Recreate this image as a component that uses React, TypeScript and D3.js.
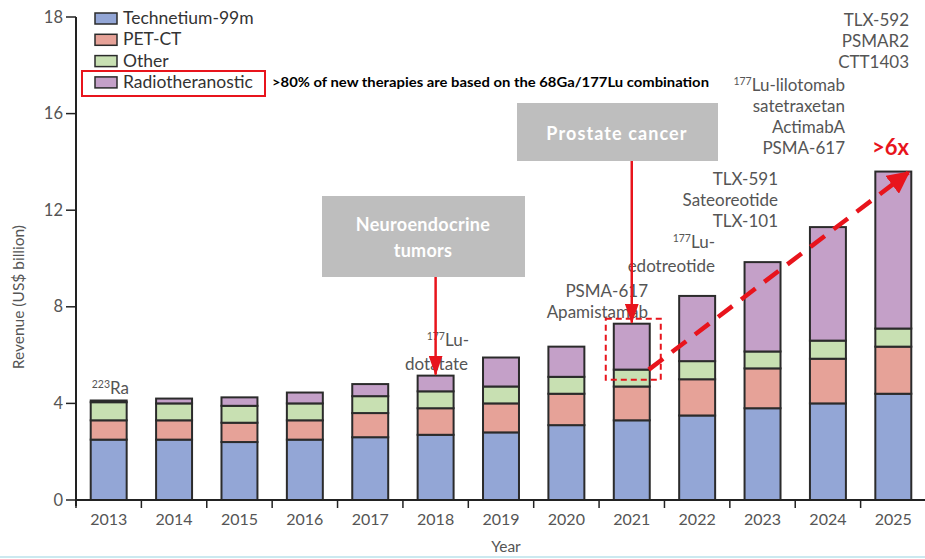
import * as d3 from "d3";

const years = ["2013", "2014", "2015", "2016", "2017", "2018", "2019", "2020", "2021", "2022", "2023", "2024", "2025"];
const technetium = [2.5, 2.5, 2.4, 2.5, 2.6, 2.7, 2.8, 3.1, 3.3, 3.5, 3.8, 4.0, 4.4];
const petCT = [0.8, 0.8, 0.8, 0.8, 1.0, 1.1, 1.2, 1.3, 1.4, 1.5, 1.65, 1.85, 1.95];
const other = [0.75, 0.7, 0.7, 0.7, 0.7, 0.7, 0.7, 0.7, 0.7, 0.75, 0.7, 0.75, 0.75];
const radio = [0.07, 0.2, 0.35, 0.45, 0.5, 0.65, 1.2, 1.25, 1.9, 2.7, 3.7, 4.7, 6.5];

const seriesNames = ["Technetium-99m", "PET-CT", "Other", "Radiotheranostic"];
const seriesColors = ["#93a6d6", "#e6a298", "#c8e0b2", "#c4a0c8"];

const yTickValues = [0, 4, 8, 12, 16, 20];
const yTickLabels = ["0", "4", "8", "12", "16", "18"];

const FONT = "Lato, 'Open Sans', sans-serif";
const RED = "#e8141c";
const GREY = "#555";

export default function App() {
  const width = 925;
  const height = 559;
  const left = 76;
  const bottom = 500;

  const x = d3.scaleBand(years, [left, 926]).paddingInner(0.45).paddingOuter(0.225);
  const y = d3.scaleLinear([0, 20], [bottom, 17]);

  const table = years.map((yr, i) => ({
    year: yr,
    [seriesNames[0]]: technetium[i],
    [seriesNames[1]]: petCT[i],
    [seriesNames[2]]: other[i],
    [seriesNames[3]]: radio[i],
  }));
  const stacked = d3.stack().keys(seriesNames)(table as any);

  const step = x.step();
  const cx = (yr: string) => (x(yr) ?? 0) + x.bandwidth() / 2;
  const total = (i: number) => technetium[i] + petCT[i] + other[i] + radio[i];
  const i18 = years.indexOf("2018");
  const i21 = years.indexOf("2021");
  const i25 = years.indexOf("2025");

  const sup = (s: string, rest: string) => (
    <>
      <tspan fontSize={10.5} dy={-6}>{s}</tspan>
      <tspan dy={6}>{rest}</tspan>
    </>
  );

  return (
    <svg width={width} height={height} style={{ position: "absolute", left: 0, top: 0, background: "#fff" }} fontFamily={FONT}>
      <defs>
        <marker id="head" viewBox="0 0 20 14" refX="19" refY="7" markerWidth="20" markerHeight="14" markerUnits="userSpaceOnUse" orient="auto">
          <path d="M0,0 L20,7 L0,14 z" fill={RED} />
        </marker>
        <marker id="headBig" viewBox="0 0 10 10" refX="9" refY="5" markerWidth="5" markerHeight="5" orient="auto">
          <path d="M0,0 L10,5 L0,10 z" fill={RED} />
        </marker>
      </defs>

      {/* bars */}
      {stacked.map((s, si) => (
        <g key={s.key} fill={seriesColors[si]} stroke="#2b2b2b" strokeWidth={2}>
          {s.map((d: any, i: number) => (
            <rect key={years[i]} x={x(years[i])} width={x.bandwidth()} y={y(d[1])} height={y(d[0]) - y(d[1])} />
          ))}
        </g>
      ))}

      {/* y axis */}
      <line x1={left} x2={left} y1={y(20)} y2={bottom + 6} stroke="#222" strokeWidth={2} />
      {yTickValues.map((v, i) => (
        <g key={v}>
          <line x1={left - 10} x2={left} y1={y(v)} y2={y(v)} stroke="#222" strokeWidth={1.5} />
          <text x={left - 13} y={y(v) + 5.5} textAnchor="end" fontSize={16.5} fill={GREY}>{yTickLabels[i]}</text>
        </g>
      ))}
      <text transform={`translate(24,${y(8.4)}) rotate(-90)`} textAnchor="middle" fontSize={15.5} fill={GREY}>Revenue (US$ billion)</text>

      {/* x axis */}
      <line x1={left} x2={925} y1={bottom} y2={bottom} stroke="#222" strokeWidth={2} />
      {years.map((yr) => (
        <line key={"t" + yr} x1={(x(yr) ?? 0) - (step - x.bandwidth()) / 2} x2={(x(yr) ?? 0) - (step - x.bandwidth()) / 2} y1={bottom} y2={bottom + 8} stroke="#222" strokeWidth={1.5} />
      ))}
      {years.map((yr) => (
        <text key={yr} x={cx(yr)} y={525} textAnchor="middle" fontSize={16} fill={GREY}>{yr}</text>
      ))}
      <text x={cx("2019") + 5} y={552} textAnchor="middle" fontSize={15.5} fill={GREY}>Year</text>
      <line x1={0} x2={925} y1={557} y2={557} stroke="#cbe9f0" strokeWidth={2} />

      {/* legend */}
      {seriesNames.map((n, i) => (
        <g key={n} transform={`translate(95,${13 + i * 21.3})`}>
          <rect width={22} height={11} fill={seriesColors[i]} stroke="#2b2b2b" strokeWidth={1.5} />
          <text x={28} y={11} fontSize={17.5} fill="#333">{n}</text>
        </g>
      ))}
      <rect x={82} y={71} width={183} height={25} fill="none" stroke={RED} strokeWidth={2} />
      <text x={272} y={87} fontSize={12.5} fontWeight="bold" fill="#000" textLength={437} lengthAdjust="spacingAndGlyphs">
        &gt;80% of new therapies are based on the 68Ga/177Lu combination
      </text>

      {/* drug annotations */}
      <g fontSize={17} fill={GREY}>
        <text x={x("2013")! + 1} y={394}>{sup("223", "Ra")}</text>
        <g textAnchor="end">
          <text x={469} y={346}>{sup("177", "Lu-")}</text>
          <text x={468} y={370}>dotatate</text>
          <text x={648} y={297}>PSMA-617</text>
          <text x={648} y={318}>Apamistamab</text>
          <text x={715} y={248}>{sup("177", "Lu-")}</text>
          <text x={715} y={272}>edotreotide</text>
          <text x={778} y={185}>TLX-591</text>
          <text x={778} y={206}>Sateoreotide</text>
          <text x={778} y={227}>TLX-101</text>
          <text x={845} y={91}>{sup("177", "Lu-lilotomab")}</text>
          <text x={845} y={112}>satetraxetan</text>
          <text x={845} y={133}>ActimabA</text>
          <text x={845} y={154}>PSMA-617</text>
          <text x={909} y={26}>TLX-592</text>
          <text x={909} y={47}>PSMAR2</text>
          <text x={909} y={68}>CTT1403</text>
        </g>
      </g>
      <text x={909} y={155} textAnchor="end" fontSize={22} fontWeight="bold" fill={RED}>&gt;6x</text>

      {/* callout boxes */}
      <rect x={322} y={196} width={203} height={81} fill="#bebebe" />
      <text x={423} y={231} textAnchor="middle" fontSize={18} fontWeight="bold" fill="#fff" letterSpacing={0.3}>Neuroendocrine</text>
      <text x={423} y={257} textAnchor="middle" fontSize={18} fontWeight="bold" fill="#fff" letterSpacing={0.3}>tumors</text>
      <rect x={517} y={103} width={201} height={58} fill="#bebebe" />
      <text x={617} y={140} textAnchor="middle" fontSize={18} fontWeight="bold" fill="#fff" letterSpacing={1.1}>Prostate cancer</text>

      {/* callout arrows */}
      <line x1={cx("2018")} x2={cx("2018")} y1={277} y2={y(total(i18)) - 1} stroke={RED} strokeWidth={2.5} markerEnd="url(#head)" />
      <line x1={cx("2021")} x2={cx("2021")} y1={161} y2={y(total(i21)) - 1} stroke={RED} strokeWidth={2.5} markerEnd="url(#head)" />

      {/* dashed highlight on 2021 */}
      <rect x={cx("2021") - 26} y={y(total(i21)) - 5} width={55}
        height={y(technetium[i21] + petCT[i21] + other[i21] * 0.4) - y(total(i21)) + 5}
        fill="none" stroke={RED} strokeWidth={2} strokeDasharray="6 4" />

      {/* growth arrow */}
      <line x1={cx("2021") + 17} y1={y(5.4)} x2={(x("2025") ?? 0) + x.bandwidth() - 3} y2={y(total(i25)) + 1}
        stroke={RED} strokeWidth={4.5} strokeDasharray="18 11" markerEnd="url(#headBig)" />
    </svg>
  );
}
